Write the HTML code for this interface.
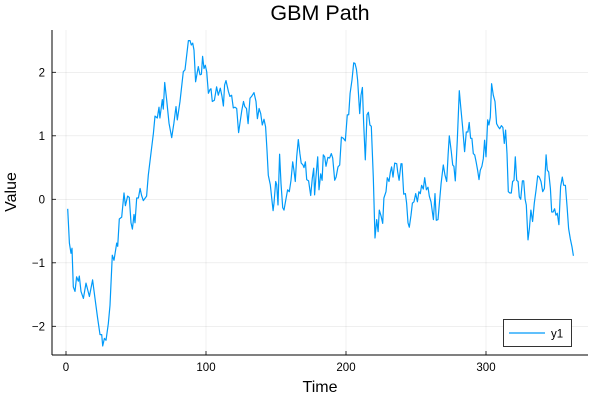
<!DOCTYPE html>
<html><head><meta charset="utf-8"><style>
body{margin:0;background:#fff}
svg{display:block;font-family:"Liberation Sans",sans-serif}
</style></head><body>
<svg id="chart" width="600" height="400" viewBox="0 0 600 400">
<rect width="600" height="400" fill="#fff"/>
<text x="320" y="20" font-size="21.5" text-anchor="middle" fill="#000">GBM Path</text>
<g id="grid"></g>
<g id="axes"></g>
<path id="line" fill="none" stroke="#009af9" stroke-width="1.2" stroke-linejoin="round"/>
<text x="320" y="392" font-size="16" text-anchor="middle">Time</text>
<text x="16" y="192" font-size="16" text-anchor="middle" transform="rotate(-90 16 192)">Value</text>
<g>
<rect x="503.5" y="319.5" width="68" height="27" fill="#fff" stroke="#000" stroke-width="0.8"/>
<line x1="509" y1="333" x2="545" y2="333" stroke="#009af9" stroke-width="1.2"/>
<text x="551" y="337.5" font-size="11.5">y1</text>
</g>
</svg>
<script>
const xTicks=[0,100,200,300];
const yTicks=[-2,-1,0,1,2];
const times=[1.2,2.4,3.6,4.3,5.2,6.4,7.6,8.8,9.5,10.7,12.4,14.3,16.7,19,20.7,22.6,24.3,25.5,26.2,27.4,28.6,30.2,31.4,33.1,34.3,36.2,36.9,38.1,39.8,41.4,42.4,44,45.2,46.4,47.4,48.6,49.3,50.5,51.7,52.9,54,55.2,57.6,58.8,60.7,62.4,63.6,65.2,66.4,67.1,68.8,69.5,70.5,71.9,73.6,75.5,77.1,78.6,79.5,81.4,83.8,85,87.4,88.6,89.5,90.5,91.4,92.6,94.5,95.7,96.7,97.6,98.6,99.5,100.5,101.7,102.9,103.6,104.5,106,107.6,108.8,110.2,111.4,112.4,113.3,114.3,116,117.1,118.3,119.5,120.7,121.9,123.3,124.7,125.6,126.8,127.7,128.9,130.1,131.4,132.6,134.3,135.7,136.7,137.9,139.1,140.2,141.4,142.6,143.6,144.5,145.9,146.9,147.9,148.6,149.8,150.5,151.4,152.6,153.6,154.8,155.7,157.1,158.3,159.5,160.7,161.9,162.8,163.8,164.8,165.9,167.1,168,169.3,170,171,171.9,173.3,174.8,175.9,176.9,177.6,178.6,179.8,180.7,181.9,182.9,183.8,184.8,185.7,187.1,188.3,189.5,190.5,191.9,192.9,194.3,195.5,196.7,198.1,199.5,200.9,201.9,202.9,204.3,205.5,206.4,207.4,208.3,209.8,210.7,211.7,212.6,213.8,215,216,217.1,218.1,219.5,220.7,221.9,222.9,223.8,225,226.2,227.1,228.6,229.5,230.7,231.7,232.6,233.6,234.8,236.2,236.9,237.9,239.3,240,241.2,242.4,243.3,244.3,245.2,246.4,247.4,248.6,249.8,251,252.1,253.1,254,255.2,256.2,257.4,258.6,259.5,260.7,262.4,263.6,264.5,265.7,266.7,267.9,269.5,270.7,271.9,272.9,273.8,275.2,276.2,277.1,278.1,279.5,280.9,281.9,283.3,284.7,285.9,287.1,288,289,289.9,290.9,291.9,292.9,294,295,295.9,297.1,298.1,299,300,301.2,302.1,303.1,304,305.2,306.4,307.6,308.8,309.8,311,312.1,313.1,314,315,315.9,317.1,318.1,319,320,320.9,321.9,322.9,323.8,324.8,326,326.9,327.9,328.8,330,331,332.1,333.3,334.5,335.7,336.9,338.1,339.3,340.5,341.7,342.9,343.8,344.8,346,346.9,347.9,349,350,350.9,352.1,353.3,354.5,355.5,356.7,357.9,359,360.2,361.4,362.4];
const values=[-0.15,-0.69,-0.85,-0.77,-1.38,-1.45,-1.22,-1.29,-1.21,-1.45,-1.56,-1.32,-1.53,-1.27,-1.56,-1.87,-2.13,-2.13,-2.31,-2.19,-2.22,-1.96,-1.67,-0.88,-0.96,-0.69,-0.74,-0.31,-0.28,0.1,-0.1,0.05,0.03,-0.37,-0.47,-0.24,-0.37,0.02,0.02,0.17,0.06,-0.02,0.05,0.38,0.73,1.04,1.31,1.28,1.45,1.28,1.57,1.42,1.84,1.56,1.2,0.97,1.2,1.46,1.25,1.54,2.01,2.04,2.5,2.5,2.43,2.46,2.35,1.85,2.09,1.96,1.97,2.25,2.06,2.11,2.01,1.67,1.73,1.74,1.54,1.56,1.77,1.64,1.75,1.62,1.47,1.8,1.87,1.7,1.62,1.64,1.44,1.45,1.43,1.05,1.27,1.4,1.54,1.46,1.43,1.19,1.59,1.62,1.68,1.54,1.27,1.43,1.35,1.17,1.26,1.14,0.77,0.38,0.23,0.02,-0.18,-0.06,0.28,0.23,-0.09,0.71,0.25,-0.13,-0.17,0,0.15,0.12,0.3,0.59,0.46,0.28,0.67,0.94,0.72,0.57,0.54,0.5,0.59,0.31,0.29,0.06,0.33,0.49,0.07,0.36,0.67,0.15,0.4,0.3,0.7,0.67,0.52,0.66,0.65,0.72,0.65,0.3,0.35,0.51,0.54,0.98,0.96,0.92,1.33,1.33,1.67,1.88,2.15,2.14,2.05,1.88,1.35,1.64,1.76,1.22,0.62,1.33,1.37,1.17,1.15,0.35,-0.61,-0.32,-0.51,-0.17,-0.26,-0.38,0.02,0.12,0.34,0.28,0.43,0.51,0.35,0.57,0.56,0.43,0.3,0.56,0.56,0.08,0.09,-0.06,-0.37,-0.44,-0.25,-0.06,-0.04,0.09,-0.04,0.12,0.09,0.22,0.16,0.34,0.15,0.19,0.05,-0.04,-0.32,0.09,-0.33,-0.32,-0.06,0.25,0.54,0.38,0.28,0.7,1.0,0.75,0.54,0.52,0.29,0.93,1.71,1.46,1.14,0.75,1.06,1.06,1.21,0.96,0.96,0.72,0.7,0.59,0.46,0.31,0.46,0.52,0.64,0.93,0.67,1.25,1.17,1.29,1.82,1.64,1.54,1.19,1.14,1.11,1.16,1.13,0.88,1.09,0.72,0.12,0.1,0.1,0.28,0.3,0.67,0.3,0.28,0.04,0.0,0.29,0.29,0.0,-0.09,-0.64,-0.46,-0.17,-0.35,-0.06,0.14,0.37,0.35,0.28,0.12,0.17,0.7,0.46,0.43,0.17,-0.2,-0.2,-0.15,-0.25,-0.22,-0.4,0.2,0.35,0.22,0.22,-0.12,-0.46,-0.62,-0.75,-0.89];
const X0=52,X1=588,Y0=30,Y1=355;
function sx(t){return 66+t*1.4;}
function sy(v){return 199.3-v*63.5;}
const NS="http://www.w3.org/2000/svg";
const grid=document.getElementById('grid'),axes=document.getElementById('axes');
function mk(tag,attrs,parent){const e=document.createElementNS(NS,tag);for(const k in attrs)e.setAttribute(k,attrs[k]);parent.appendChild(e);return e;}
xTicks.forEach(t=>{
  const g=mk('line',{x1:sx(t),x2:sx(t),y1:Y0,y2:Y1,stroke:'#000','stroke-opacity':0.1,'stroke-width':0.6},grid);
  
  
  const tk=mk('line',{x1:sx(t),x2:sx(t),y1:Y1,y2:Y1-4,stroke:'#000','stroke-width':0.8},axes);
  
  
  const tx=mk('text',{x:sx(t),y:371,'font-size':11.5,'text-anchor':'middle',fill:'#000'},axes);
  tx.textContent=String(t);
  
  
});
yTicks.forEach(v=>{
  const g=mk('line',{x1:X0,x2:X1,y1:sy(v),y2:sy(v),stroke:'#000','stroke-opacity':0.1,'stroke-width':0.6},grid);
  
  
  const tk=mk('line',{x1:X0,x2:X0+4,y1:sy(v),y2:sy(v),stroke:'#000','stroke-width':0.8},axes);
  
  
  const tx=mk('text',{x:45,y:sy(v)+4,'font-size':11.5,'text-anchor':'end',fill:'#000'},axes);
  tx.textContent=v<0?'\u2212'+Math.abs(v):String(v);
  
  
});
const xa=mk('line',{x1:X0,x2:X1,y1:Y1,y2:Y1,stroke:'#000','stroke-width':1},axes);


const ya=mk('line',{x1:X0,x2:X0,y1:Y0,y2:Y1,stroke:'#000','stroke-width':1},axes);


let d='';
times.forEach((t,i)=>{d+=(i?'L':'M')+sx(t).toFixed(1)+','+sy(values[i]).toFixed(1);});
document.getElementById('line').setAttribute('d',d);
</script>
</body></html>
